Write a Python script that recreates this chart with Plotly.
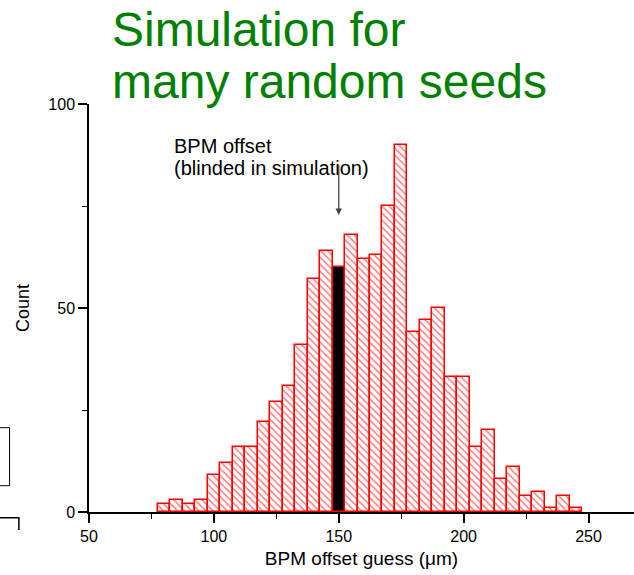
import plotly.graph_objects as go

# Histogram data: bin centres (µm) and counts
bin_centers = [80, 85, 90, 95, 100, 105, 110, 115, 120, 125, 130, 135, 140, 145, 150,
               155, 160, 165, 170, 175, 180, 185, 190, 195, 200, 205, 210, 215, 220,
               225, 230, 235, 240, 245]
counts = [2, 3, 2, 3, 9, 12, 16, 16, 22, 27, 31, 41, 57, 64, 60,
          68, 62, 63, 75, 90, 44, 47, 50, 33, 33, 16, 20, 8, 11,
          4, 5, 1, 4, 1]
highlight_bin = 150
x_ticks = [50, 100, 150, 200, 250]
y_ticks = [0, 50, 100]

hx = [c for c in bin_centers if c != highlight_bin]
hy = [n for c, n in zip(bin_centers, counts) if c != highlight_bin]
bx = [c for c in bin_centers if c == highlight_bin]
by = [n for c, n in zip(bin_centers, counts) if c == highlight_bin]

W, H = 634, 575
L, R, T, B = 88.5, 0, 104, 63
pw, ph = W - L - R, H - T - B

def px_x(px):
    return (px - L) / pw

def px_y(py):
    return (H - B - py) / ph

fig = go.Figure()
fig.add_trace(go.Bar(
    x=hx, y=hy, width=5,
    marker=dict(
        color="white",
        line=dict(color="red", width=1.5),
        pattern=dict(shape="\\", fgcolor="red", bgcolor="white", size=5, solidity=0.32),
    ),
    showlegend=False,
))
fig.add_trace(go.Bar(
    x=bx, y=by, width=5,
    marker=dict(color="black", line=dict(color="red", width=1.5)),
    showlegend=False,
))

font = "Liberation Sans, Arial, sans-serif"

fig.update_layout(
    width=W, height=H,
    margin=dict(l=L, r=R, t=T, b=B, pad=0, autoexpand=False),
    plot_bgcolor="white", paper_bgcolor="white",
    font=dict(family=font, color="black", size=16),
    bargap=0, barmode="overlay",
    xaxis=dict(
        range=[50, 50 + pw / 2.5], tickvals=x_ticks, ticks="outside", ticklen=9, tickwidth=1.5,
        tickcolor="black", showline=True, linecolor="black", linewidth=1.5, showgrid=False,
        zeroline=False, tickfont=dict(size=16),
        minor=dict(dtick=25, tick0=0, ticks="outside", ticklen=5, tickwidth=1.2, tickcolor="black", showgrid=False),
        title=dict(text="BPM offset guess (μm)", font=dict(size=19), standoff=8),
    ),
    yaxis=dict(
        range=[0, 100], tickvals=y_ticks, ticks="outside", ticklen=9, tickwidth=1.5,
        tickcolor="black", showline=True, linecolor="black", linewidth=1.5, showgrid=False,
        zeroline=False, tickfont=dict(size=16),
        minor=dict(dtick=25, tick0=0, ticks="outside", ticklen=5, tickwidth=1.2, tickcolor="black", showgrid=False),
        title=dict(text="Count", font=dict(size=18), standoff=14),
    ),
)

green = "#008000"
fig.add_annotation(text="Simulation for", xref="paper", yref="paper", x=px_x(110), y=px_y(30),
                   xanchor="left", yanchor="middle", showarrow=False, font=dict(size=48, color=green, family=font))
fig.add_annotation(text="many random seeds", xref="paper", yref="paper", x=px_x(110), y=px_y(82),
                   xanchor="left", yanchor="middle", showarrow=False, font=dict(size=48, color=green, family=font))

fig.add_annotation(text="BPM offset", xref="paper", yref="paper", x=px_x(172), y=px_y(146),
                   xanchor="left", yanchor="middle", showarrow=False, font=dict(size=20, family=font))
fig.add_annotation(text="(blinded in simulation)", xref="paper", yref="paper", x=px_x(172), y=px_y(168),
                   xanchor="left", yanchor="middle", showarrow=False, font=dict(size=20, family=font))
# arrow pointing to the blinded bin
fig.add_annotation(text="", x=150, y=72.8, ax=150, ay=85.5, xref="x", yref="y", axref="x", ayref="y",
                   showarrow=True, arrowhead=2, arrowsize=1, arrowwidth=1.3, arrowcolor="#444444")

# cropped remnants of neighbouring figure at the left edge
fig.add_shape(type="rect", xref="paper", yref="paper", x0=px_x(-5), x1=px_x(9), y0=px_y(485.7), y1=px_y(427.7),
              line=dict(color="black", width=1))
fig.add_shape(type="path", xref="paper", yref="paper",
              path=f"M {px_x(-2)} {px_y(517.7)} L {px_x(18.3)} {px_y(517.7)} L {px_x(18.3)} {px_y(530)}",
              line=dict(color="black", width=1.5))

fig.write_html("out.html", config={"displayModeBar": False},
               post_script="document.body.style.margin='0';document.body.style.overflow='hidden';")
